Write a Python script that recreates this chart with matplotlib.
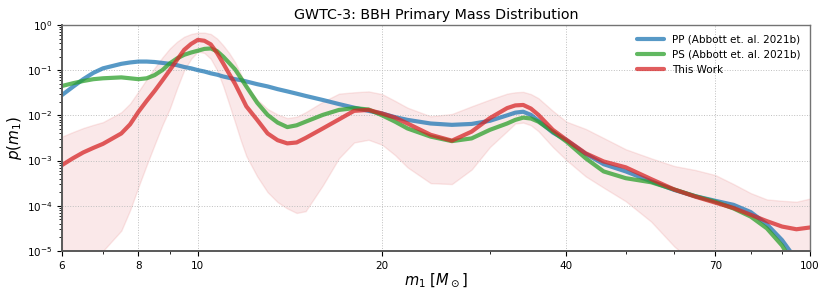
import numpy as np
import matplotlib
matplotlib.use('Agg')
import matplotlib.pyplot as plt
from matplotlib.ticker import NullFormatter, FixedLocator

# primary mass grid (solar masses)
mass = [6, 6.25, 6.5, 6.75, 7, 7.5, 7.75, 8, 8.25, 8.5,
        8.75, 9, 9.25, 9.5, 9.75, 10, 10.25, 10.5, 10.75, 11,
        11.25, 11.5, 11.75, 12, 12.5, 13, 13.5, 14, 14.5, 15,
        16, 17, 18, 19, 20, 21, 22, 24, 26, 28,
        30, 32, 33, 34, 35, 36, 38, 40, 43, 46,
        50, 55, 60, 65, 70, 75, 80, 85, 90, 95,
        100]

# log10 p(m1)
pp_log10 = [-1.55, -1.37, -1.20, -1.06, -0.96, -0.86, -0.83, -0.81, -0.81, -0.82,
            -0.84, -0.86, -0.89, -0.93, -0.96, -1.00, -1.03, -1.07, -1.10, -1.14,
            -1.17, -1.20, -1.22, -1.25, -1.31, -1.36, -1.42, -1.47, -1.52, -1.57,
            -1.66, -1.75, -1.83, -1.90, -1.96, -2.04, -2.10, -2.18, -2.21, -2.19,
            -2.12, -2.00, -1.94, -1.92, -1.99, -2.12, -2.38, -2.55, -2.85, -3.08,
            -3.24, -3.46, -3.65, -3.79, -3.89, -3.98, -4.14, -4.41, -4.76, -5.20,
            -5.70]
ps_log10 = [-1.35, -1.29, -1.24, -1.20, -1.18, -1.16, -1.18, -1.20, -1.18, -1.11,
            -1.00, -0.85, -0.74, -0.66, -0.61, -0.57, -0.53, -0.52, -0.58, -0.70,
            -0.84, -0.98, -1.17, -1.36, -1.72, -1.99, -2.16, -2.26, -2.22, -2.14,
            -1.99, -1.88, -1.84, -1.87, -2.00, -2.14, -2.29, -2.47, -2.57, -2.51,
            -2.32, -2.18, -2.10, -2.05, -2.07, -2.14, -2.36, -2.58, -2.95, -3.24,
            -3.39, -3.48, -3.64, -3.79, -3.91, -4.06, -4.24, -4.50, -4.88, -5.40,
            -6.00]
tw_log10 = [-3.10, -2.95, -2.82, -2.72, -2.63, -2.40, -2.20, -1.92, -1.68, -1.46,
            -1.23, -1.00, -0.77, -0.55, -0.42, -0.33, -0.35, -0.43, -0.62, -0.85,
            -1.08, -1.30, -1.55, -1.80, -2.10, -2.40, -2.55, -2.62, -2.60, -2.50,
            -2.29, -2.09, -1.90, -1.88, -1.96, -2.05, -2.18, -2.43, -2.56, -2.36,
            -2.06, -1.84, -1.78, -1.77, -1.85, -1.99, -2.32, -2.54, -2.84, -3.02,
            -3.15, -3.41, -3.64, -3.80, -3.93, -4.05, -4.20, -4.34, -4.46, -4.52,
            -4.48]
tw_hi_log10 = [-2.47, -2.37, -2.28, -2.21, -2.15, -1.93, -1.74, -1.47, -1.20, -0.95,
               -0.72, -0.52, -0.37, -0.26, -0.20, -0.17, -0.17, -0.20, -0.30, -0.45,
               -0.62, -0.82, -1.08, -1.35, -1.65, -1.86, -1.98, -2.06, -2.03, -1.93,
               -1.70, -1.52, -1.49, -1.47, -1.53, -1.68, -1.83, -2.02, -1.97, -1.80,
               -1.65, -1.52, -1.49, -1.48, -1.53, -1.62, -1.90, -2.14, -2.30, -2.50,
               -2.75, -2.95, -3.12, -3.21, -3.32, -3.52, -3.72, -3.86, -3.89, -3.91,
               -3.84]
tw_lo_log10 = [-6.00, -5.75, -5.50, -5.25, -5.00, -4.55, -4.10, -3.58, -3.10, -2.65,
               -2.22, -1.85, -1.40, -1.00, -0.75, -0.59, -0.62, -0.75, -1.00, -1.35,
               -1.75, -2.15, -2.55, -2.90, -3.35, -3.70, -3.92, -4.06, -4.16, -4.12,
               -3.55, -2.95, -2.60, -2.54, -2.65, -2.88, -3.15, -3.50, -3.52, -3.20,
               -2.70, -2.35, -2.18, -2.16, -2.22, -2.35, -2.70, -2.99, -3.35, -3.60,
               -3.90, -4.35, -4.90, -5.30, -5.50, -5.70, -5.90, -6.00, -6.00, -6.00,
               -6.00]

xticks = [6, 8, 10, 20, 40, 70, 100]

m = np.array(mass)
fig = plt.figure(figsize=(8.3, 2.97), dpi=100)
ax = fig.add_axes([0.0747, 0.155, 0.9013, 0.761])

ax.fill_between(m, 10**np.array(tw_lo_log10), 10**np.array(tw_hi_log10),
                color='tab:red', alpha=0.1)
line_kw = dict(lw=3, alpha=0.75, solid_joinstyle='round', solid_capstyle='round')
ax.plot(m, 10**np.array(pp_log10), color='tab:blue', label='PP (Abbott et. al. 2021b)', **line_kw)
ax.plot(m, 10**np.array(ps_log10), color='tab:green', label='PS (Abbott et. al. 2021b)', **line_kw)
ax.plot(m, 10**np.array(tw_log10), color='tab:red', label='This Work', **line_kw)

ax.set_xscale('log')
ax.set_yscale('log')
ax.set_xlim(6, 100)
ax.set_ylim(1e-5, 1)
ax.xaxis.set_major_locator(FixedLocator(xticks))
ax.set_xticklabels([str(t) for t in xticks])
ax.xaxis.set_minor_formatter(NullFormatter())
ax.tick_params(labelsize=7.5, which='both', top=False, right=False)
ax.grid(True, which='major', ls=':', color='0.75', lw=0.7)

for s in ['left', 'bottom']:
    ax.spines[s].set_color('0.35')
    ax.spines[s].set_linewidth(1.4)
for s in ['top', 'right']:
    ax.spines[s].set_color('0.45')
    ax.spines[s].set_linewidth(1.0)

ax.set_title('GWTC-3: BBH Primary Mass Distribution', fontsize=10.3, pad=4)
ax.set_xlabel(r'$m_1\ [M_\odot]$', fontsize=10.5, labelpad=0)
ax.set_ylabel(r'$p(m_1)$', fontsize=11, labelpad=2)
ax.legend(loc='upper right', frameon=False, fontsize=7.5, handlelength=2.6)

fig.savefig('out.png', dpi=100)
